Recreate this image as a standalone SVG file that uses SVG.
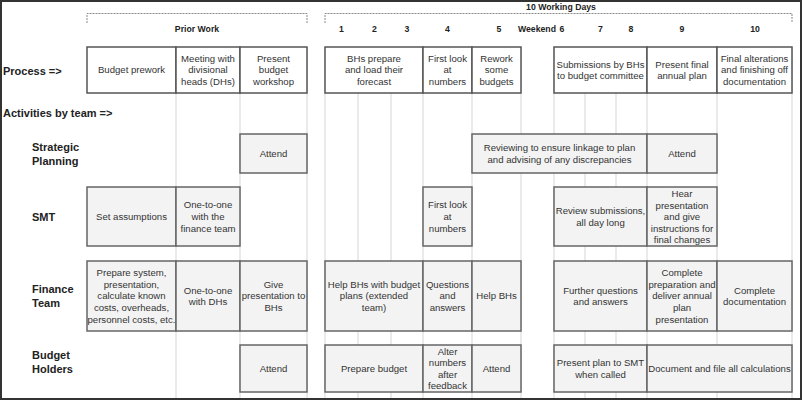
<svg xmlns="http://www.w3.org/2000/svg" width="803" height="401" viewBox="0 0 803 401">
<style>
.bg{fill:#fff;stroke:#333;stroke-width:2}
.grid line{stroke:#e3e3e3;stroke-width:1.5}
.br{fill:none;stroke:#888;stroke-width:1;stroke-dasharray:2,1}
.hd{font-family:"Liberation Sans",Arial,sans-serif;font-size:8.7px;font-weight:bold;fill:#222;text-anchor:middle}
.rl{font-family:"Liberation Sans",Arial,sans-serif;font-size:11px;font-weight:bold;fill:#222}
.pb{fill:#fff;stroke:#555;stroke-width:1.5}
.ab{fill:#f3f3f3;stroke:#666;stroke-width:1.5}
.t{font-family:"Liberation Sans",Arial,sans-serif;font-size:9.6px;fill:#333;text-anchor:middle}
</style>
<rect class="bg" x="1" y="1" width="800" height="398"/>
<g id="connectors" class="grid">
<line x1="176" y1="47" x2="176" y2="398"/>
<line x1="240" y1="47" x2="240" y2="398"/>
<line x1="307" y1="47" x2="307" y2="398"/>
<line x1="325" y1="47" x2="325" y2="398"/>
<line x1="358" y1="47" x2="358" y2="398"/>
<line x1="391" y1="47" x2="391" y2="398"/>
<line x1="423" y1="47" x2="423" y2="398"/>
<line x1="472" y1="47" x2="472" y2="398"/>
<line x1="521" y1="47" x2="521" y2="398"/>
<line x1="554" y1="47" x2="554" y2="398"/>
<line x1="585" y1="47" x2="585" y2="398"/>
<line x1="616" y1="47" x2="616" y2="398"/>
<line x1="647" y1="47" x2="647" y2="398"/>
<line x1="717" y1="47" x2="717" y2="398"/>
<line x1="792" y1="47" x2="792" y2="398"/>
</g>
<g id="headers">
<path class="br" d="M87,23V13.5H307V23"/>
<path class="br" d="M325,23V13.5H792V23"/>
<text class="hd" x="197" y="31.5">Prior Work</text>
<text class="hd" x="561" y="10">10 Working Days</text>
<text class="hd" x="341.5" y="32">1</text>
<text class="hd" x="374.5" y="32">2</text>
<text class="hd" x="407" y="32">3</text>
<text class="hd" x="447.5" y="32">4</text>
<text class="hd" x="499" y="32">5</text>
<text class="hd" x="537" y="32">Weekend</text>
<text class="hd" x="562" y="32">6</text>
<text class="hd" x="600.5" y="32">7</text>
<text class="hd" x="631" y="32">8</text>
<text class="hd" x="682" y="32">9</text>
<text class="hd" x="755" y="32">10</text>
</g>
<g id="row-labels">
<text class="rl" x="3" y="74.5">Process =&gt;</text>
<text class="rl" x="3" y="117">Activities by team =&gt;</text>
<text class="rl" x="32" y="151">Strategic<tspan x="32" dy="14">Planning</tspan></text>
<text class="rl" x="32" y="221">SMT</text>
<text class="rl" x="32" y="293">Finance<tspan x="32" dy="14">Team</tspan></text>
<text class="rl" x="32" y="359">Budget<tspan x="32" dy="14">Holders</tspan></text>
</g>
<g id="p1"><rect class="pb" x="87" y="47" width="89" height="46"/><text class="t" x="131.5" y="73.4">Budget prework</text></g>
<g id="p2"><rect class="pb" x="176" y="47" width="64" height="46"/><text class="t" x="208" y="61.8">Meeting with<tspan x="208" dy="11.6">divisional</tspan><tspan x="208" dy="11.6">heads (DHs)</tspan></text></g>
<g id="p3"><rect class="pb" x="240" y="47" width="67" height="46"/><text class="t" x="273.5" y="61.8">Present<tspan x="273.5" dy="11.6">budget</tspan><tspan x="273.5" dy="11.6">workshop</tspan></text></g>
<g id="p4"><rect class="pb" x="325" y="47" width="98" height="46"/><text class="t" x="374" y="61.8">BHs prepare<tspan x="374" dy="11.6">and load their</tspan><tspan x="374" dy="11.6">forecast</tspan></text></g>
<g id="p5"><rect class="pb" x="423" y="47" width="49" height="46"/><text class="t" x="447.5" y="61.8">First look<tspan x="447.5" dy="11.6">at</tspan><tspan x="447.5" dy="11.6">numbers</tspan></text></g>
<g id="p6"><rect class="pb" x="472" y="47" width="49" height="46"/><text class="t" x="496.5" y="61.8">Rework<tspan x="496.5" dy="11.6">some</tspan><tspan x="496.5" dy="11.6">budgets</tspan></text></g>
<g id="p7"><rect class="pb" x="554" y="47" width="93" height="46"/><text class="t" x="600.5" y="67.6">Submissions by BHs<tspan x="600.5" dy="11.6">to budget committee</tspan></text></g>
<g id="p8"><rect class="pb" x="647" y="47" width="70" height="46"/><text class="t" x="682" y="67.6">Present final<tspan x="682" dy="11.6">annual plan</tspan></text></g>
<g id="p9"><rect class="pb" x="717" y="47" width="75" height="46"/><text class="t" x="754.5" y="61.8">Final alterations<tspan x="754.5" dy="11.6">and finishing off</tspan><tspan x="754.5" dy="11.6">documentation</tspan></text></g>
<g id="sp1"><rect class="ab" x="240" y="134" width="67" height="39"/><text class="t" x="273.5" y="156.9">Attend</text></g>
<g id="sp2"><rect class="ab" x="472" y="134" width="175" height="39"/><text class="t" x="559.5" y="151.1">Reviewing to ensure linkage to plan<tspan x="559.5" dy="11.6">and advising of any discrepancies</tspan></text></g>
<g id="sp3"><rect class="ab" x="647" y="134" width="70" height="39"/><text class="t" x="682" y="156.9">Attend</text></g>
<g id="smt1"><rect class="ab" x="87" y="187" width="89" height="59"/><text class="t" x="131.5" y="219.9">Set assumptions</text></g>
<g id="smt2"><rect class="ab" x="176" y="187" width="64" height="59"/><text class="t" x="208" y="208.3">One-to-one<tspan x="208" dy="11.6">with the</tspan><tspan x="208" dy="11.6">finance team</tspan></text></g>
<g id="smt3"><rect class="ab" x="423" y="187" width="49" height="59"/><text class="t" x="447.5" y="208.3">First look<tspan x="447.5" dy="11.6">at</tspan><tspan x="447.5" dy="11.6">numbers</tspan></text></g>
<g id="smt4"><rect class="ab" x="554" y="187" width="93" height="59"/><text class="t" x="600.5" y="214.1">Review submissions,<tspan x="600.5" dy="11.6">all day long</tspan></text></g>
<g id="smt5"><rect class="ab" x="647" y="187" width="70" height="59"/><text class="t" x="682" y="197">Hear<tspan x="682" dy="11.6">presentation</tspan><tspan x="682" dy="11.6">and give</tspan><tspan x="682" dy="11.6">instructions for</tspan><tspan x="682" dy="11.6">final changes</tspan></text></g>
<g id="ft1"><rect class="ab" x="87" y="261" width="89" height="70"/><text class="t" x="131.5" y="276.2">Prepare system,<tspan x="131.5" dy="11.6">presentation,</tspan><tspan x="131.5" dy="11.6">calculate known</tspan><tspan x="131.5" dy="11.6">costs, overheads,</tspan><tspan x="131.5" dy="11.6">personnel costs, etc.</tspan></text></g>
<g id="ft2"><rect class="ab" x="176" y="261" width="64" height="70"/><text class="t" x="208" y="293.6">One-to-one<tspan x="208" dy="11.6">with DHs</tspan></text></g>
<g id="ft3"><rect class="ab" x="240" y="261" width="67" height="70"/><text class="t" x="273.5" y="287.8">Give<tspan x="273.5" dy="11.6">presentation to</tspan><tspan x="273.5" dy="11.6">BHs</tspan></text></g>
<g id="ft4"><rect class="ab" x="325" y="261" width="98" height="70"/><text class="t" x="374" y="287.8">Help BHs with budget<tspan x="374" dy="11.6">plans (extended</tspan><tspan x="374" dy="11.6">team)</tspan></text></g>
<g id="ft5"><rect class="ab" x="423" y="261" width="49" height="70"/><text class="t" x="447.5" y="287.8">Questions<tspan x="447.5" dy="11.6">and</tspan><tspan x="447.5" dy="11.6">answers</tspan></text></g>
<g id="ft6"><rect class="ab" x="472" y="261" width="49" height="70"/><text class="t" x="496.5" y="299.4">Help BHs</text></g>
<g id="ft7"><rect class="ab" x="554" y="261" width="93" height="70"/><text class="t" x="600.5" y="293.6">Further questions<tspan x="600.5" dy="11.6">and answers</tspan></text></g>
<g id="ft8"><rect class="ab" x="647" y="261" width="70" height="70"/><text class="t" x="682" y="276.2">Complete<tspan x="682" dy="11.6">preparation and</tspan><tspan x="682" dy="11.6">deliver annual</tspan><tspan x="682" dy="11.6">plan</tspan><tspan x="682" dy="11.6">presentation</tspan></text></g>
<g id="ft9"><rect class="ab" x="717" y="261" width="75" height="70"/><text class="t" x="754.5" y="293.6">Complete<tspan x="754.5" dy="11.6">documentation</tspan></text></g>
<g id="bh1"><rect class="ab" x="240" y="345" width="67" height="47"/><text class="t" x="273.5" y="371.9">Attend</text></g>
<g id="bh2"><rect class="ab" x="325" y="345" width="98" height="47"/><text class="t" x="374" y="371.9">Prepare budget</text></g>
<g id="bh3"><rect class="ab" x="423" y="345" width="49" height="47"/><text class="t" x="447.5" y="354.5">Alter<tspan x="447.5" dy="11.6">numbers</tspan><tspan x="447.5" dy="11.6">after</tspan><tspan x="447.5" dy="11.6">feedback</tspan></text></g>
<g id="bh4"><rect class="ab" x="472" y="345" width="49" height="47"/><text class="t" x="496.5" y="371.9">Attend</text></g>
<g id="bh5"><rect class="ab" x="554" y="345" width="93" height="47"/><text class="t" x="600.5" y="366.1">Present plan to SMT<tspan x="600.5" dy="11.6">when called</tspan></text></g>
<g id="bh6"><rect class="ab" x="647" y="345" width="145" height="47"/><text class="t" x="719.5" y="371.9">Document and file all calculations</text></g>
</svg>
